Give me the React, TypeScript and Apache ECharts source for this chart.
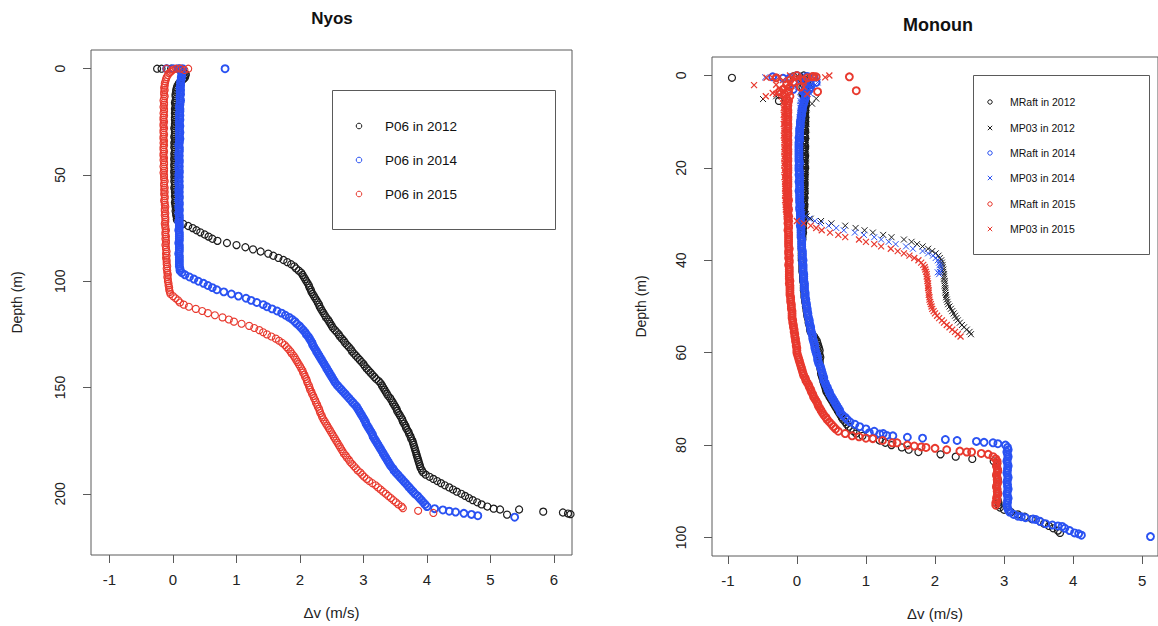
import React, { useEffect, useRef } from "react";
import * as echarts from "echarts";

// ---------------- Nyos (P06) ----------------
const nyosDepth = [
  0,1,2,3,4,5,6,7,8,9,
  10,11,12,13,14,15,16,17,18,19,
  20,21,22,23,24,25,26,27,28,29,
  30,31,32,33,34,35,36,37,38,39,
  40,41,42,43,44,45,46,47,48,49,
  50,51,52,53,54,55,56,57,58,59,
  60,61,62,63,64,65,66,67,68,69,
  70,71,72,73,74,75,76,77,78,79,
  80,81,82,83,84,85,86,87,88,89,
  90,91,92,93,94,95,96,97,98,99,
  100,101,102,103,104,105,106,107,108,109,
  110,111,112,113,114,115,116,117,118,119,
  120,121,122,123,124,125,126,127,128,129,
  130,131,132,133,134,135,136,137,138,139,
  140,141,142,143,144,145,146,147,148,149,
  150,151,152,153,154,155,156,157,158,159,
  160,161,162,163,164,165,166,167,168,169,
  170,171,172,173,174,175,176,177,178,179,
  180,181,182,183,184,185,186,187,188,189,
  190,191,192,193,194,195,196,197,198,199,
  200,201,202,203,204,205,206,
];

const nyos2012 = [
  0.1,0.12,0.17,0.2,0.19,0.16,0.12,0.09,0.07,0.06,
  0.05,0.05,0.04,0.04,0.05,0.04,0.03,0.04,0.04,0.03,
  0.04,0.03,0.04,0.03,0.03,0.04,0.03,0.03,0.02,0.03,
  0.03,0.03,0.02,0.03,0.03,0.02,0.03,0.02,0.03,0.03,
  0.02,0.03,0.02,0.02,0.03,0.02,0.02,0.03,0.02,0.02,
  0.03,0.02,0.03,0.02,0.03,0.03,0.02,0.03,0.03,0.04,
  0.03,0.04,0.04,0.03,0.04,0.04,0.05,0.04,0.05,0.05,
  0.06,0.06,0.1,0.16,0.24,0.31,0.37,0.43,0.5,0.56,
  0.62,0.7,0.85,1.0,1.14,1.26,1.38,1.5,1.58,1.66,
  1.74,1.8,1.86,1.91,1.94,1.98,2.02,2.04,2.06,2.08,
  2.1,2.12,2.14,2.15,2.17,2.18,2.2,2.22,2.24,2.26,
  2.28,2.3,2.31,2.33,2.35,2.37,2.39,2.41,2.44,2.46,
  2.48,2.5,2.52,2.55,2.58,2.61,2.63,2.66,2.69,2.71,
  2.74,2.77,2.8,2.82,2.85,2.88,2.91,2.94,2.97,3.0,
  3.02,3.05,3.08,3.11,3.14,3.17,3.2,3.24,3.27,3.29,
  3.31,3.33,3.35,3.37,3.39,3.42,3.44,3.46,3.48,3.5,
  3.52,3.53,3.55,3.57,3.59,3.61,3.62,3.64,3.66,3.67,
  3.69,3.71,3.72,3.74,3.75,3.77,3.78,3.79,3.8,3.81,
  3.82,3.83,3.84,3.85,3.86,3.87,3.88,3.89,3.9,3.92,
  3.94,3.98,4.04,4.1,4.16,4.22,4.28,4.35,4.41,4.47,
  4.54,4.6,4.66,4.72,4.79,4.86,4.95,
];
const nyos2012Extra = [
  [-0.25,0],[-0.18,0],[-0.1,0],[-0.03,0],[0.15,0.3],[0.2,2.5],[0.18,4.5],
  [5.05,207],[5.15,207.4],[5.26,209.8],[5.45,207.4],[5.83,208.4],[6.14,208.8],[6.22,209.3],[6.26,209.6],
];

const nyos2014 = [
  0.08,0.13,0.14,0.14,0.13,0.13,0.12,0.12,0.12,0.11,
  0.12,0.11,0.12,0.11,0.11,0.12,0.11,0.11,0.1,0.11,
  0.11,0.1,0.11,0.1,0.11,0.1,0.1,0.11,0.1,0.1,
  0.11,0.1,0.1,0.11,0.1,0.1,0.09,0.1,0.1,0.1,
  0.09,0.1,0.09,0.1,0.1,0.09,0.1,0.09,0.1,0.1,
  0.09,0.1,0.09,0.1,0.09,0.1,0.1,0.09,0.1,0.09,
  0.1,0.1,0.09,0.1,0.1,0.09,0.1,0.1,0.09,0.1,
  0.1,0.1,0.09,0.1,0.1,0.1,0.09,0.1,0.1,0.1,
  0.1,0.1,0.09,0.1,0.1,0.1,0.1,0.09,0.1,0.1,
  0.1,0.1,0.1,0.1,0.11,0.11,0.14,0.19,0.26,0.33,
  0.4,0.48,0.55,0.62,0.69,0.8,0.92,1.03,1.15,1.23,
  1.32,1.42,1.48,1.56,1.64,1.71,1.77,1.83,1.88,1.92,
  1.95,1.99,2.02,2.05,2.08,2.1,2.13,2.15,2.17,2.19,
  2.2,2.22,2.24,2.26,2.28,2.3,2.32,2.34,2.36,2.38,
  2.4,2.42,2.44,2.46,2.48,2.5,2.52,2.54,2.56,2.59,
  2.62,2.65,2.68,2.71,2.74,2.77,2.8,2.83,2.86,2.89,
  2.91,2.93,2.95,2.97,2.99,3.01,3.03,3.04,3.06,3.08,
  3.1,3.12,3.14,3.15,3.17,3.19,3.21,3.23,3.25,3.27,
  3.29,3.31,3.33,3.35,3.37,3.39,3.41,3.43,3.46,3.48,
  3.51,3.54,3.57,3.6,3.63,3.66,3.69,3.72,3.75,3.78,
  3.81,3.85,3.88,3.91,3.94,3.97,4.0,
];
const nyos2014Extra = [
  [-0.1,0],[0.0,0],[0.15,0],[0.82,0],
  [4.12,207],[4.25,207.6],[4.35,208.2],[4.45,208.6],[4.58,209.2],[4.7,209.7],[4.8,210.3],[5.38,211],
];

const nyos2015 = [
  0.05,-0.02,-0.06,-0.08,-0.1,-0.11,-0.12,-0.13,-0.13,-0.14,
  -0.13,-0.14,-0.14,-0.13,-0.14,-0.15,-0.14,-0.14,-0.15,-0.14,
  -0.14,-0.15,-0.14,-0.15,-0.15,-0.14,-0.15,-0.15,-0.14,-0.15,
  -0.15,-0.14,-0.15,-0.15,-0.14,-0.15,-0.14,-0.15,-0.15,-0.14,
  -0.15,-0.15,-0.14,-0.15,-0.14,-0.14,-0.15,-0.14,-0.14,-0.15,
  -0.14,-0.14,-0.14,-0.13,-0.14,-0.14,-0.13,-0.14,-0.13,-0.14,
  -0.13,-0.13,-0.14,-0.13,-0.13,-0.12,-0.13,-0.13,-0.12,-0.13,
  -0.12,-0.12,-0.12,-0.13,-0.12,-0.12,-0.11,-0.12,-0.12,-0.11,
  -0.12,-0.11,-0.11,-0.12,-0.11,-0.11,-0.1,-0.11,-0.1,-0.11,
  -0.1,-0.1,-0.1,-0.09,-0.1,-0.09,-0.09,-0.08,-0.09,-0.08,
  -0.08,-0.07,-0.07,-0.06,-0.06,-0.05,-0.04,0.0,0.04,0.08,
  0.11,0.17,0.25,0.36,0.46,0.55,0.66,0.78,0.88,0.96,
  1.08,1.2,1.28,1.36,1.42,1.48,1.55,1.62,1.67,1.72,
  1.76,1.79,1.82,1.85,1.87,1.9,1.92,1.94,1.96,1.98,
  2.0,2.02,2.04,2.05,2.07,2.08,2.1,2.11,2.12,2.14,
  2.15,2.16,2.18,2.19,2.21,2.22,2.24,2.25,2.27,2.28,
  2.3,2.31,2.32,2.34,2.35,2.37,2.39,2.41,2.43,2.45,
  2.47,2.49,2.51,2.53,2.55,2.57,2.59,2.61,2.63,2.65,
  2.67,2.69,2.72,2.74,2.77,2.79,2.82,2.85,2.88,2.91,
  2.95,2.98,3.01,3.05,3.09,3.14,3.19,3.23,3.27,3.31,
  3.35,3.39,3.43,3.47,3.51,3.55,3.6,
];
const nyos2015Extra = [
  [-0.1,0],[0.0,0.4],[0.12,0],[0.18,0.6],[0.24,0],[-0.04,1.5],
  [3.62,206.8],[3.86,208],[4.1,209],
];

// ---------------- Monoun (MRaft / MP03) ----------------
const monounDepth = [
  0,0.5,1,1.5,2,2.5,3,3.5,4,4.5,5,5.5,
  6,6.5,7,7.5,8,8.5,9,9.5,10,10.5,11,11.5,
  12,12.5,13,13.5,14,14.5,15,15.5,16,16.5,17,17.5,
  18,18.5,19,19.5,20,20.5,21,21.5,22,22.5,23,23.5,
  24,24.5,25,25.5,26,26.5,27,27.5,28,28.5,29,29.5,
  30,30.5,31,31.5,32,32.5,33,33.5,34,34.5,35,35.5,
  36,36.5,37,37.5,38,38.5,39,39.5,40,40.5,41,41.5,
  42,42.5,43,43.5,44,44.5,45,45.5,46,46.5,47,47.5,
  48,48.5,49,49.5,50,50.5,51,51.5,52,52.5,53,53.5,
  54,54.5,55,55.5,56,56.5,57,57.5,58,58.5,59,59.5,
  60,60.5,61,61.5,62,62.5,63,63.5,64,64.5,65,65.5,
  66,66.5,67,67.5,68,68.5,69,69.5,70,70.5,71,71.5,
  72,72.5,73,73.5,74,74.5,75,75.5,76,76.5,77,77.5,
  78,78.5,79,79.5,80,80.5,81,81.5,82,82.5,83,83.5,
  84,84.5,85,85.5,86,86.5,87,87.5,88,88.5,89,89.5,
  90,90.5,91,91.5,92,92.5,93,93.5,94,94.5,95,95.5,
  96,96.5,97,97.5,98,98.5,99,
];

const raft2012 = [
  0.1,0.05,0.12,0.15,0.1,0.08,0.12,0.1,0.08,0.1,0.12,0.13,
  0.13,0.13,0.12,0.12,0.12,0.11,0.12,0.12,0.11,0.12,0.11,0.11,
  0.12,0.11,0.11,0.12,0.11,0.11,0.11,0.12,0.11,0.11,0.11,0.12,
  0.11,0.11,0.11,0.11,0.12,0.11,0.11,0.11,0.11,0.1,0.11,0.11,
  0.11,0.1,0.11,0.11,0.1,0.11,0.1,0.1,0.11,0.1,0.1,0.1,
  0.1,0.1,0.09,0.1,0.09,0.09,0.09,0.08,0.09,0.08,0.08,0.08,
  0.07,0.07,0.07,0.07,0.07,0.07,0.07,0.07,0.07,0.08,0.08,0.08,
  0.08,0.08,0.09,0.09,0.09,0.09,0.1,0.1,0.1,0.1,0.11,0.11,
  0.11,0.12,0.12,0.13,0.13,0.14,0.14,0.15,0.15,0.16,0.17,0.17,
  0.18,0.19,0.19,0.2,0.22,0.25,0.27,0.29,0.3,0.31,0.32,0.33,
  0.32,0.33,0.34,0.33,0.33,0.33,0.34,0.34,0.35,0.35,0.36,0.37,
  0.38,0.39,0.4,0.41,0.42,0.43,0.45,0.47,0.49,0.51,0.53,0.55,
  0.57,0.59,0.61,0.63,0.65,0.67,0.7,0.72,0.75,0.78,0.82,0.86,
  0.95,1.1,1.2,1.28,1.37,1.52,1.62,1.76,2.08,2.3,2.54,2.85,
  2.9,2.89,2.9,2.91,2.9,2.89,2.9,2.91,2.9,2.9,2.89,2.9,
  2.9,2.91,2.9,2.9,2.91,2.92,2.92,2.94,3.0,3.1,3.2,3.3,
  3.4,3.52,3.58,3.65,3.71,3.78,3.81,
];
const raft2012Extra = [[-0.94,0.5],[-0.26,5.5],[-0.05,0.2],[0.22,0.3]];

const raft2014 = [
  0.0,-0.1,0.05,0.12,0.2,0.15,0.18,0.1,0.12,0.13,0.12,0.11,
  0.1,0.09,0.08,0.08,0.07,0.07,0.06,0.06,0.05,0.05,0.05,0.04,
  0.04,0.04,0.04,0.03,0.04,0.03,0.03,0.03,0.03,0.03,0.03,0.03,
  0.03,0.03,0.04,0.03,0.03,0.03,0.04,0.03,0.04,0.04,0.03,0.04,
  0.04,0.04,0.03,0.04,0.04,0.04,0.04,0.04,0.05,0.04,0.04,0.05,
  0.05,0.05,0.05,0.05,0.06,0.05,0.06,0.06,0.06,0.06,0.06,0.07,
  0.07,0.07,0.07,0.07,0.08,0.08,0.08,0.08,0.09,0.08,0.09,0.09,
  0.09,0.09,0.1,0.1,0.1,0.1,0.11,0.11,0.11,0.11,0.12,0.12,
  0.12,0.13,0.13,0.14,0.14,0.15,0.15,0.16,0.16,0.17,0.18,0.18,
  0.19,0.2,0.2,0.21,0.22,0.23,0.23,0.24,0.25,0.26,0.26,0.27,
  0.28,0.29,0.3,0.3,0.31,0.32,0.34,0.35,0.36,0.37,0.38,0.39,
  0.39,0.41,0.42,0.44,0.45,0.47,0.48,0.5,0.52,0.54,0.56,0.58,
  0.6,0.62,0.63,0.66,0.7,0.73,0.77,0.84,0.91,1.0,1.12,1.25,
  1.39,1.82,2.32,2.84,3.02,3.05,3.06,3.04,3.05,3.06,3.05,3.04,
  3.05,3.06,3.05,3.05,3.04,3.05,3.06,3.05,3.04,3.05,3.05,3.06,
  3.05,3.04,3.05,3.06,3.05,3.05,3.04,3.05,3.06,3.08,3.14,3.25,
  3.42,3.52,3.6,3.78,3.88,3.95,4.02,
];
const raft2014Extra = [
  [-0.35,0.3],[-0.2,0.6],[0.15,0.2],[0.25,0.4],[0.2,2.6],[0.28,1.5],[-0.05,3],
  [1.05,77.3],[1.2,77.6],[1.3,77.9],[1.6,78.3],[2.15,78.8],[2.6,79.2],[2.71,79.4],[2.91,79.7],
  [3.2,95.4],[3.31,95.7],[3.46,96.1],[3.7,97.3],[3.84,97.6],[4.08,99.2],[4.12,99.5],[5.12,99.8],
];

const raft2015 = [
  0.0,0.15,-0.1,-0.05,-0.15,-0.1,-0.2,-0.12,-0.18,-0.1,-0.15,-0.12,
  -0.13,-0.13,-0.14,-0.13,-0.13,-0.14,-0.13,-0.13,-0.14,-0.13,-0.13,-0.13,
  -0.14,-0.13,-0.13,-0.14,-0.13,-0.13,-0.13,-0.14,-0.13,-0.13,-0.13,-0.14,
  -0.13,-0.13,-0.14,-0.13,-0.13,-0.13,-0.13,-0.14,-0.13,-0.13,-0.13,-0.13,
  -0.13,-0.14,-0.13,-0.13,-0.13,-0.13,-0.12,-0.13,-0.13,-0.13,-0.12,-0.13,
  -0.13,-0.12,-0.13,-0.12,-0.13,-0.12,-0.12,-0.13,-0.12,-0.12,-0.12,-0.12,
  -0.12,-0.12,-0.12,-0.11,-0.12,-0.12,-0.11,-0.12,-0.11,-0.11,-0.12,-0.11,
  -0.11,-0.11,-0.11,-0.11,-0.11,-0.1,-0.11,-0.1,-0.1,-0.1,-0.1,-0.1,
  -0.09,-0.09,-0.09,-0.08,-0.08,-0.08,-0.07,-0.07,-0.07,-0.07,-0.06,-0.06,
  -0.05,-0.05,-0.04,-0.04,-0.03,-0.03,-0.02,-0.02,-0.01,-0.01,0.0,0.0,
  0.0,0.01,0.02,0.03,0.04,0.05,0.06,0.07,0.08,0.09,0.1,0.12,
  0.13,0.15,0.17,0.18,0.2,0.21,0.23,0.24,0.26,0.28,0.3,0.31,
  0.33,0.35,0.37,0.39,0.42,0.44,0.47,0.5,0.53,0.56,0.6,0.7,
  0.8,1.0,1.24,1.45,1.6,1.87,2.17,2.46,2.77,2.84,2.88,2.9,
  2.9,2.89,2.9,2.91,2.9,2.89,2.9,2.9,2.91,2.9,2.89,2.9,
  2.9,2.91,2.9,2.89,2.9,2.88,2.88,
];
const raft2015Extra = [
  [0.22,0.3],[0.24,0.2],[0.28,0.3],[0.76,0.3],[0.86,3.3],[-0.3,0.5],[0.1,1],[0.05,2.5],[-0.25,3.5],[0.3,3.5],
  [0.9,78.2],[1.1,78.6],[1.38,79.5],[1.7,80.2],[1.8,80.4],[2.0,80.7],[2.36,81.3],[2.53,81.5],[2.67,81.8],
];

const mp2012 = [
  0.1,0.0,0.15,0.05,0.2,-0.1,0.12,0.08,0.15,0.1,0.13,0.14,
  0.14,0.13,0.14,0.13,0.13,0.14,0.13,0.13,0.13,0.14,0.13,0.13,
  0.13,0.13,0.14,0.13,0.13,0.13,0.12,0.13,0.13,0.13,0.12,0.13,
  0.13,0.12,0.13,0.13,0.12,0.13,0.12,0.12,0.13,0.12,0.12,0.12,
  0.12,0.12,0.13,0.12,0.12,0.12,0.12,0.11,0.12,0.12,0.12,0.12,
  0.13,0.14,0.2,0.35,0.5,0.7,0.85,0.98,1.1,1.25,1.37,1.55,
  1.66,1.74,1.82,1.9,1.96,2.01,2.05,2.07,2.09,2.1,2.11,2.11,
  2.12,2.12,2.13,2.13,2.13,2.14,2.14,2.14,2.15,2.15,2.15,2.16,
  2.16,2.17,2.18,2.19,2.21,2.23,2.25,2.27,2.29,2.31,2.33,2.36,
  2.39,2.42,2.46,2.5,2.52,
];
const mp2012Extra = [[-0.49,5.1],[0.22,6.1],[-0.3,4.5],[0.28,5]];

const mp2014 = [
  0.05,-0.15,0.1,0.0,0.15,-0.05,0.1,0.05,0.12,0.08,0.06,0.05,
  0.06,0.05,0.05,0.06,0.05,0.05,0.04,0.05,0.05,0.04,0.05,0.04,
  0.04,0.05,0.04,0.04,0.04,0.05,0.04,0.04,0.04,0.04,0.05,0.04,
  0.04,0.04,0.05,0.04,0.04,0.04,0.05,0.04,0.05,0.05,0.04,0.05,
  0.05,0.05,0.05,0.06,0.05,0.06,0.06,0.06,0.06,0.07,0.07,0.07,
  0.08,0.12,0.18,0.26,0.34,0.46,0.57,0.68,0.84,0.97,1.12,1.22,
  1.33,1.43,1.58,1.68,1.82,1.9,1.97,2.01,2.04,2.06,2.07,2.08,
  2.08,2.07,2.06,
];
const mp2014Extra = [[-0.46,0.4],[-0.3,0.3],[-0.2,1],[0.25,0.5],[0.2,4],[0.3,1.5],[2.04,42.6]];

const mp2015 = [
  -0.1,0.0,-0.2,-0.1,-0.3,-0.15,-0.25,-0.2,-0.3,-0.22,-0.2,-0.18,
  -0.19,-0.18,-0.19,-0.18,-0.18,-0.19,-0.18,-0.18,-0.18,-0.19,-0.18,-0.18,
  -0.18,-0.18,-0.19,-0.18,-0.18,-0.18,-0.17,-0.18,-0.18,-0.18,-0.17,-0.18,
  -0.18,-0.17,-0.18,-0.18,-0.17,-0.18,-0.17,-0.17,-0.18,-0.17,-0.17,-0.17,
  -0.17,-0.17,-0.16,-0.17,-0.17,-0.16,-0.17,-0.16,-0.16,-0.16,-0.16,-0.15,
  -0.15,-0.13,-0.1,0.0,0.1,0.2,0.28,0.36,0.48,0.6,0.7,0.9,
  1.0,1.12,1.22,1.36,1.46,1.55,1.63,1.7,1.76,1.8,1.83,1.85,
  1.86,1.87,1.88,1.88,1.89,1.89,1.9,1.9,1.9,1.91,1.91,1.91,
  1.92,1.92,1.93,1.94,1.95,1.96,1.98,2.0,2.03,2.06,2.1,2.13,
  2.17,2.21,2.25,2.29,2.33,2.37,
];
const mp2015Extra = [
  [-0.62,2.1],[-0.44,0.5],[-0.35,0.5],[-0.26,0.4],[-0.07,0.5],[0.03,0.5],[0.41,0.4],[0.47,0.0],
  [-0.45,4.5],[-0.35,3.8],[0.1,2.5],[0.15,4],
];

// ---------------- axes / legends ----------------
const nyosXTicks = [-1, 0, 1, 2, 3, 4, 5, 6];
const nyosYTicks = [0, 50, 100, 150, 200];
const monounXTicks = [-1, 0, 1, 2, 3, 4, 5];
const monounYTicks = [0, 20, 40, 60, 80, 100];
const nyosLegend = ["P06 in 2012", "P06 in 2014", "P06 in 2015"];
const monounLegend = ["MRaft in 2012", "MP03 in 2012", "MRaft in 2014", "MP03 in 2014", "MRaft in 2015", "MP03 in 2015"];

const BLACK = "#1c1c1c";
const BLUE = "#2a52f2";
const RED = "#e8392e";
const AXIS = "#5a5a5a";
const TEXT = "#222";
const FONT = '"Liberation Sans", Arial, Helvetica, sans-serif';
const CROSS = "path://M0,0L10,10M0,10L10,0";

function pts(xs: number[], depth: number[], extra: number[][]) {
  const out: number[][] = [];
  for (let i = 0; i < xs.length; i++) out.push([xs[i], depth[i]]);
  return out.concat(extra);
}

function circles(name: string, data: number[][], color: string, gi: number, size: number, lw: number) {
  return {
    type: "scatter", name, xAxisIndex: gi, yAxisIndex: gi, data, silent: true,
    symbol: "circle", symbolSize: size,
    itemStyle: { color: "transparent", borderColor: color, borderWidth: lw, opacity: 1 },
    emphasis: { disabled: true },
  };
}
function crosses(name: string, data: number[][], color: string, gi: number, size: number, lw: number) {
  return {
    type: "scatter", name, xAxisIndex: gi, yAxisIndex: gi, data, silent: true,
    symbol: CROSS, symbolSize: size,
    itemStyle: { color: "transparent", borderColor: color, borderWidth: lw, opacity: 1 },
    emphasis: { disabled: true },
  };
}

function xAxisCfg(gi: number, min: number, max: number, ticks: number[]) {
  return {
    type: "value", gridIndex: gi, min, max, position: "bottom",
    name: "Δv (m/s)", nameLocation: "middle", nameGap: 50,
    nameTextStyle: { fontSize: 15, color: TEXT, fontFamily: FONT },
    axisLine: { show: false, onZero: false }, splitLine: { show: false },
    axisTick: { show: true, length: 8, customValues: ticks, lineStyle: { color: AXIS, width: 1 } },
    axisLabel: { show: true, customValues: ticks, margin: 17, fontSize: 15, color: TEXT, fontFamily: FONT },
  };
}
function yAxisCfg(gi: number, min: number, max: number, ticks: number[], gap: number) {
  return {
    type: "value", gridIndex: gi, min, max, inverse: true, position: "left",
    name: "Depth (m)", nameLocation: "middle", nameGap: gap, nameRotate: 90,
    nameTextStyle: { fontSize: 14, color: TEXT, fontFamily: FONT },
    axisLine: { show: false, onZero: false }, splitLine: { show: false },
    axisTick: { show: true, length: 8, customValues: ticks, lineStyle: { color: AXIS, width: 1 } },
    axisLabel: { show: true, customValues: ticks, rotate: 90, margin: 24, fontSize: 14, color: TEXT, fontFamily: FONT },
  };
}

function txt(x: number, y: number, text: string, size: number, weight: string, align: string) {
  return {
    type: "text", x, y, silent: true,
    style: {
      text, fill: "#111", fontSize: size, fontWeight: weight, fontFamily: FONT,
      textAlign: align, align, textVerticalAlign: "middle", verticalAlign: "middle",
    },
  };
}
function ring(x: number, y: number, r: number, color: string) {
  return { type: "circle", shape: { cx: x, cy: y, r }, style: { fill: "none", stroke: color, lineWidth: 1 }, silent: true };
}
function cross(x: number, y: number, h: number, color: string) {
  return [
    { type: "line", shape: { x1: x - h, y1: y - h, x2: x + h, y2: y + h }, style: { stroke: color, lineWidth: 1 }, silent: true },
    { type: "line", shape: { x1: x - h, y1: y + h, x2: x + h, y2: y - h }, style: { stroke: color, lineWidth: 1 }, silent: true },
  ];
}

export default function App() {
  const ref = useRef<HTMLDivElement>(null);

  useEffect(() => {
    if (!ref.current) return;
    const chart = echarts.init(ref.current, undefined, { renderer: "svg" });

    const nyosColors = [BLACK, BLUE, RED];
    const nyosRows = [126, 160, 194];
    const monColors = [BLACK, BLACK, BLUE, BLUE, RED, RED];
    const monRows = [102, 128, 153, 178, 204, 229];

    const graphic: any[] = [
      txt(332, 18, "Nyos", 17, "bold", "center"),
      txt(938, 25, "Monoun", 18, "bold", "center"),
      { type: "rect", shape: { x: 332.5, y: 90.5, width: 223, height: 139 }, style: { fill: "none", stroke: AXIS, lineWidth: 1 }, silent: true },
      { type: "rect", shape: { x: 973.5, y: 75.5, width: 176, height: 179 }, style: { fill: "none", stroke: AXIS, lineWidth: 1 }, silent: true },
    ];
    nyosLegend.forEach((label, i) => {
      graphic.push(ring(359, nyosRows[i], 2.8, nyosColors[i]));
      graphic.push(txt(385, nyosRows[i], label, 13.5, "normal", "left"));
    });
    monounLegend.forEach((label, i) => {
      if (i % 2 === 0) graphic.push(ring(990, monRows[i], 2.2, monColors[i]));
      else graphic.push(...cross(990, monRows[i], 2.2, monColors[i]));
      graphic.push(txt(1010, monRows[i], label, 10.5, "normal", "left"));
    });

    const option: any = {
      animation: false,
      backgroundColor: "#ffffff",
      textStyle: { fontFamily: FONT },
      grid: [
        { left: 91, top: 50, width: 481, height: 505, show: true, borderColor: AXIS, borderWidth: 1, backgroundColor: "transparent", containLabel: false },
        { left: 712, top: 57, width: 452, height: 499, show: true, borderColor: AXIS, borderWidth: 1, backgroundColor: "transparent", containLabel: false },
      ],
      xAxis: [xAxisCfg(0, -1.291, 6.283, nyosXTicks), xAxisCfg(1, -1.229, 5.229, monounXTicks)],
      yAxis: [yAxisCfg(0, -8.8, 228.8, nyosYTicks, 67), yAxisCfg(1, -4, 104, monounYTicks, 64)],
      series: [
        circles("P06 in 2012", pts(nyos2012, nyosDepth, nyos2012Extra), BLACK, 0, 7, 1.2),
        circles("P06 in 2014", pts(nyos2014, nyosDepth, nyos2014Extra), BLUE, 0, 7, 1.9),
        circles("P06 in 2015", pts(nyos2015, nyosDepth, nyos2015Extra), RED, 0, 7, 1.1),
        circles("MRaft in 2012", pts(raft2012, monounDepth, raft2012Extra), BLACK, 1, 7, 1.2),
        crosses("MP03 in 2012", pts(mp2012, monounDepth, mp2012Extra), BLACK, 1, 6, 1),
        circles("MRaft in 2014", pts(raft2014, monounDepth, raft2014Extra), BLUE, 1, 7, 1.9),
        crosses("MP03 in 2014", pts(mp2014, monounDepth, mp2014Extra), BLUE, 1, 6, 1),
        circles("MRaft in 2015", pts(raft2015, monounDepth, raft2015Extra), RED, 1, 7, 1.9),
        crosses("MP03 in 2015", pts(mp2015, monounDepth, mp2015Extra), RED, 1, 6, 1.2),
      ],
      graphic,
    };
    chart.setOption(option);
    return () => chart.dispose();
  }, []);

  return (
    <div
      ref={ref}
      style={{ position: "fixed", left: 0, top: 0, width: 1158, height: 626, background: "#fff" }}
    />
  );
}
